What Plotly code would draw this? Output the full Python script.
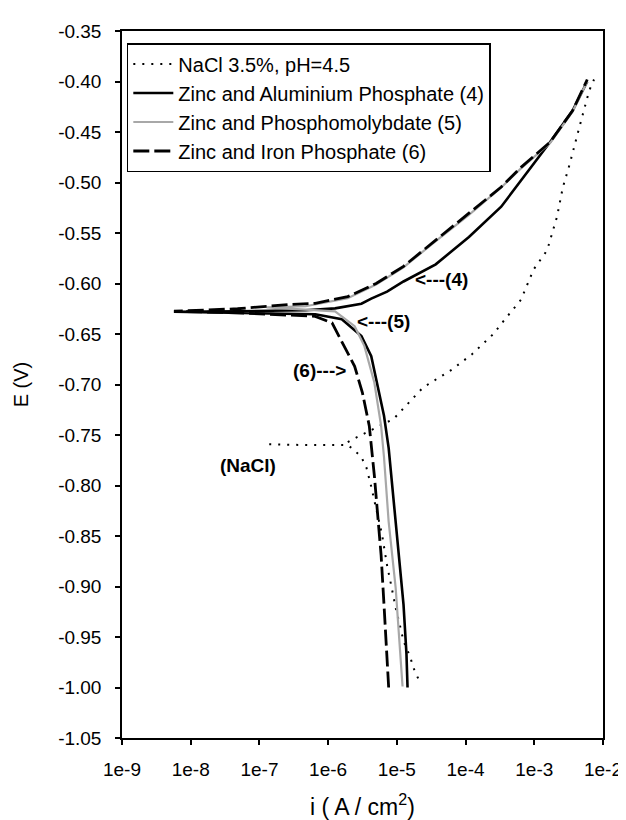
import math
import plotly.graph_objects as go

# ---------------- data ----------------
nacl_i = [2.04e-5, 1.73e-5, 1.57e-5, 1.25e-5, 1.13e-5, 9.6e-6, 8.4e-6, 7.2e-6, 6.1e-6, 4.7e-6,
          4.2e-6, 3.6e-6, 3.05e-6, 2.4e-6, 1.93e-6, 4.7e-7, 1.19e-7, None,
          1.93e-6, 2.4e-6, 9.0e-6, 2.4e-5, 6.4e-5, 1.24e-4, 2.54e-4, 3.3e-4, 6.4e-4, 9.8e-4,
          1.54e-3, 2.14e-3, 2.6e-3, 3.27e-3, 4.26e-3, 5.3e-3, 6.3e-3, 7.4e-3]
nacl_E = [-0.991, -0.980, -0.970, -0.954, -0.941, -0.921, -0.901, -0.879, -0.849, -0.813,
          -0.800, -0.782, -0.772, -0.765, -0.760, -0.760, -0.759, None,
          -0.757, -0.7535, -0.734, -0.703, -0.685, -0.670, -0.650, -0.640, -0.616, -0.586,
          -0.567, -0.534, -0.505, -0.482, -0.452, -0.429, -0.409, -0.398]

znal_i = [1.43e-5, 1.38e-5, 1.25e-5, 1.06e-5, 9.0e-6, 7.6e-6, 6.5e-6, 5.17e-6, 4.24e-6, 3.05e-6,
          1.58e-6, 6.5e-7, 4.8e-8, 5.7e-9, 4.8e-8, 4.7e-7, 1.26e-6, 3.05e-6, 4.24e-6, 7.2e-6,
          1.25e-5, 3.68e-5, 1.12e-4, 3.3e-4, 6.4e-4, 1.7e-3, 3.6e-3, 5.9e-3]
znal_E = [-1.000, -0.967, -0.918, -0.869, -0.8195, -0.763, -0.731, -0.698, -0.672, -0.652,
          -0.6354, -0.6305, -0.6290, -0.6280, -0.6275, -0.6265, -0.6246, -0.620, -0.615, -0.608,
          -0.598, -0.581, -0.554, -0.524, -0.498, -0.460, -0.429, -0.400]

znmo_i = [1.21e-5, 1.13e-5, 9.6e-6, 7.6e-6, 6.9e-6, 6.5e-6, 5.9e-6, 4.7e-6, 3.37e-6, 2.43e-6,
          1.26e-6, 4.7e-7, 1.27e-7, 4.7e-7, 1.93e-6, 4.99e-6, 1.25e-5, 3.68e-5, 1.12e-4, 3.3e-4,
          6.4e-4, 1.7e-3, 3.6e-3, 5.9e-3]
znmo_E = [-0.999, -0.967, -0.901, -0.836, -0.790, -0.772, -0.741, -0.698, -0.662, -0.6423,
          -0.6276, -0.626, -0.6236, -0.6225, -0.6145, -0.601, -0.584, -0.558, -0.532, -0.505,
          -0.486, -0.461, -0.430, -0.400]

znfe_i = [7.6e-6, 7.2e-6, 6.5e-6, 5.9e-6, 5.17e-6, 4.7e-6, 3.97e-6, 3.15e-6, 2.43e-6, 1.93e-6,
          1.14e-6, 6.5e-7, 4.8e-8, 5.7e-9, 4.8e-8, 2.7e-7, 6.5e-7, 1.93e-6, 4.99e-6, 1.25e-5,
          3.68e-5, 1.12e-4, 3.3e-4, 6.4e-4, 1.7e-3, 3.6e-3, 5.9e-3]
znfe_E = [-1.000, -0.967, -0.918, -0.869, -0.8195, -0.790, -0.741, -0.708, -0.682, -0.669,
          -0.639, -0.6325, -0.629, -0.6275, -0.625, -0.6207, -0.6197, -0.613, -0.600, -0.583,
          -0.557, -0.531, -0.5045, -0.485, -0.460, -0.429, -0.398]

names = ["NaCl 3.5%, pH=4.5",
         "Zinc and Aluminium Phosphate (4)",
         "Zinc and Phosphomolybdate (5)",
         "Zinc and Iron Phosphate (6)"]

x_tickvals = [1e-9, 1e-8, 1e-7, 1e-6, 1e-5, 1e-4, 1e-3, 1e-2]
x_ticktext = ["1e-9", "1e-8", "1e-7", "1e-6", "1e-5", "1e-4", "1e-3", "1e-2"]
y_tickvals = [-1.05, -1.00, -0.95, -0.90, -0.85, -0.80, -0.75, -0.70, -0.65, -0.60,
              -0.55, -0.50, -0.45, -0.40, -0.35]
y_ticktext = ["-1.05", "-1.00", "-0.95", "-0.90", "-0.85", "-0.80", "-0.75", "-0.70", "-0.65",
              "-0.60", "-0.55", "-0.50", "-0.45", "-0.40", "-0.35"]

labels = ["&lt;---(4)", "&lt;---(5)", "(6)---&gt;", "(NaCl)"]
label_i = [1.73e-5, 2.43e-6, 2.9e-7, 2.5e-8]
label_E = [-0.596, -0.6374, -0.6866, -0.780]

# ---------------- figure ----------------
FONT = "Liberation Sans, Arial, sans-serif"
fig = go.Figure()
fig.add_trace(go.Scatter(x=nacl_i, y=nacl_E, mode="lines", name=names[0],
                         line=dict(color="black", width=2, dash="2px,7px")))
fig.add_trace(go.Scatter(x=znal_i, y=znal_E, mode="lines", name=names[1],
                         line=dict(color="black", width=2.6)))
fig.add_trace(go.Scatter(x=znmo_i, y=znmo_E, mode="lines", name=names[2],
                         line=dict(color="#a8a8a8", width=2.2)))
fig.add_trace(go.Scatter(x=znfe_i, y=znfe_E, mode="lines", name=names[3],
                         line=dict(color="black", width=2.8, dash="16px,5px")))

for t, xi, ye in zip(labels, label_i, label_E):
    fig.add_annotation(x=math.log10(xi), y=ye, text="<b>%s</b>" % t,
                       showarrow=False, xanchor="left", yanchor="middle",
                       font=dict(family=FONT, size=19, color="black"))

fig.update_layout(
    width=626, height=820,
    margin=dict(l=112, r=22, t=23, b=85),
    paper_bgcolor="white", plot_bgcolor="white",
    font=dict(family=FONT, size=19, color="black"),
    showlegend=True,
    legend=dict(x=0.01, y=0.983, xanchor="left", yanchor="top",
                bgcolor="white", bordercolor="black", borderwidth=1.5,
                font=dict(family=FONT, size=20, color="black"),
                tracegroupgap=0, itemwidth=40),
)
fig.update_xaxes(type="log", range=[-9, -2], tickvals=x_tickvals, ticktext=x_ticktext,
                 showgrid=False, zeroline=False, showline=True, linecolor="black", linewidth=1.5,
                 mirror=True, ticks="outside", ticklen=5, tickcolor="black", tickwidth=1.5,
                 ticklabelstandoff=8,
                 tickfont=dict(family=FONT, size=19, color="black"),
                 title=dict(text="i ( A / cm<sup>2</sup>)", font=dict(family=FONT, size=23, color="black"),
                            standoff=20))
fig.update_yaxes(range=[-1.05, -0.35], tickvals=y_tickvals, ticktext=y_ticktext,
                 showgrid=False, zeroline=False, showline=True, linecolor="black", linewidth=1.5,
                 mirror=True, ticks="outside", ticklen=5, tickcolor="black", tickwidth=1.5,
                 ticklabelstandoff=10,
                 tickfont=dict(family=FONT, size=19, color="black"),
                 title=dict(text="E (V)", font=dict(family=FONT, size=20, color="black"),
                            standoff=24))

fig.write_html("out.html")
